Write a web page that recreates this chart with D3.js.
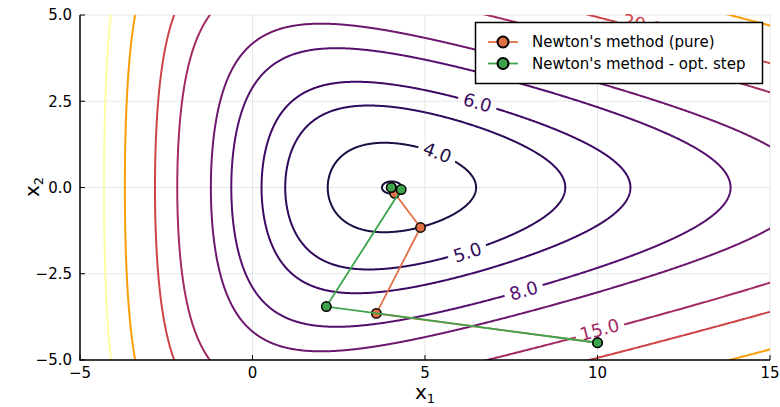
<!DOCTYPE html>
<html>
<head>
<meta charset="utf-8">
<script src="https://cdn.jsdelivr.net/npm/d3@7"></script>
<style>
  body { margin: 0; background: #fff; }
  text { font-family: "DejaVu Sans", sans-serif; }
</style>
</head>
<body>
<svg id="chart" width="780" height="407"></svg>
<script>
/* axis ticks */
const xTicks = [-5, 0, 5, 10, 15];
const yTicks = [-5, -2.5, 0, 2.5, 5];
const yTickText = ["\u22125.0", "\u22122.5", "0.0", "2.5", "5.0"];
const xTickText = ["\u22125", "0", "5", "10", "15"];

/* objective f(x1,x2) = e^(a x1 + b x2) + e^(a x1 - b x2) + c e^(-d x1) */
const coefA = 0.1, coefB = 0.4, coefC = 4.5, coefD = 0.5;
const levels = [3.6, 4, 5, 6, 8, 10, 15, 20, 30, 40];

/* contour labels (level, position in data units) */
const labelLevels = [4, 5, 6, 8, 15, 20];
const labelX = [5.36, 6.23, 6.52, 7.86, 10.06, 11.3];
const labelY = [1.01, -1.88, 2.46, -2.99, -4.12, 4.72];

/* Newton iterates */
const pureX = [10, 3.59, 4.87, 4.12, 4.03];
const pureY = [-4.5, -3.65, -1.16, -0.17, 0.0];
const optX = [10, 2.14, 4.31, 4.02];
const optY = [-4.5, -3.45, -0.06, 0.0];
const seriesNames = ["Newton's method (pure)", "Newton's method - opt. step"];

function f(x1, x2) {
  return Math.exp(coefA * x1 + coefB * x2) + Math.exp(coefA * x1 - coefB * x2) + coefC * Math.exp(-coefD * x1);
}
function grad(x1, x2) {
  const e1 = Math.exp(coefA * x1 + coefB * x2), e2 = Math.exp(coefA * x1 - coefB * x2);
  return [coefA * (e1 + e2) - coefC * coefD * Math.exp(-coefD * x1), coefB * (e1 - e2)];
}

const svg = d3.select("#chart");
const plot = { left: 80, right: 770, top: 15, bottom: 360 };
const x = d3.scaleLinear().domain([-5, 15]).range([plot.left, plot.right]);
const y = d3.scaleLinear().domain([-5, 5]).range([plot.bottom, plot.top]);

const lo = levels[0], hi = levels[levels.length - 1];
const color = v => d3.interpolateInferno(0.1 + 0.9 * Math.pow((v - lo) / (hi - lo), 0.85));

const defs = svg.append("defs");
defs.append("clipPath").attr("id", "plotclip").append("rect")
  .attr("x", plot.left).attr("y", plot.top)
  .attr("width", plot.right - plot.left).attr("height", plot.bottom - plot.top);

/* grid */
const grid = svg.append("g").attr("stroke", "#e6e6e6").attr("stroke-width", 1);
xTicks.forEach(t => grid.append("line").attr("x1", x(t)).attr("x2", x(t)).attr("y1", plot.top).attr("y2", plot.bottom));
yTicks.forEach(t => grid.append("line").attr("y1", y(t)).attr("y2", y(t)).attr("x1", plot.left).attr("x2", plot.right));

/* label positions and angles */
const labels = labelLevels.map((lv, i) => {
  const [gx, gy] = grad(labelX[i], labelY[i]);
  let ang = Math.atan2(gx, gy) * 180 / Math.PI;
  if (ang > 90) ang -= 180;
  if (ang < -90) ang += 180;
  return { level: lv, px: x(labelX[i]), py: y(labelY[i]), ang, text: lv.toFixed(1) };
});

/* mask leaving gaps in contour lines under labels */
const mask = defs.append("mask").attr("id", "lblmask").attr("maskUnits", "userSpaceOnUse")
  .attr("x", 0).attr("y", 0).attr("width", 780).attr("height", 407);
mask.append("rect").attr("width", 780).attr("height", 407).attr("fill", "white");
labels.forEach(l => {
  const w = l.text.length * 10.5 + 8;
  mask.append("rect").attr("x", -w / 2).attr("y", -11).attr("width", w).attr("height", 22)
    .attr("fill", "black").attr("transform", `translate(${l.px},${l.py}) rotate(${l.ang})`);
});

/* contour grid (padded beyond the plot so domain edges fall outside the clip) */
const gx0 = -6, gy0 = -6, step = 0.025;
const nx = Math.round(22 / step), ny = Math.round(12 / step);
const values = new Float64Array(nx * ny);
for (let j = 0; j < ny; j++) {
  for (let i = 0; i < nx; i++) {
    values[j * nx + i] = f(gx0 + (i + 0.5) * step, gy0 + (j + 0.5) * step);
  }
}
const contours = d3.contours().size([nx, ny]).thresholds(levels)(values);
const proj = d3.geoTransform({
  point(px, py) { this.stream.point(x(gx0 + px * step), y(gy0 + py * step)); }
});
const path = d3.geoPath(proj);

const cg = svg.append("g").attr("clip-path", "url(#plotclip)")
  .append("g").attr("mask", "url(#lblmask)");
cg.selectAll("path").data(contours).join("path")
  .attr("d", path)
  .attr("fill", "none")
  .attr("stroke", d => color(d.value))
  .attr("stroke-width", 2);

svg.append("g").selectAll("text").data(labels).join("text")
  .attr("transform", d => `translate(${d.px},${d.py}) rotate(${d.ang})`)
  .attr("text-anchor", "middle").attr("dy", "0.35em")
  .attr("font-size", 18)
  .attr("fill", d => color(d.level))
  .text(d => d.text);

/* axes */
const ax = svg.append("g").attr("stroke", "#000");
ax.append("line").attr("x1", plot.left).attr("x2", plot.left).attr("y1", plot.top).attr("y2", plot.bottom + 0.75).attr("stroke-width", 1.5);
ax.append("line").attr("x1", plot.left).attr("x2", plot.right).attr("y1", plot.bottom).attr("y2", plot.bottom).attr("stroke-width", 1.5);
xTicks.forEach(t => ax.append("line").attr("x1", x(t)).attr("x2", x(t)).attr("y1", plot.bottom).attr("y2", plot.bottom - 5).attr("stroke-width", 1));
yTicks.forEach(t => ax.append("line").attr("x1", plot.left).attr("x2", plot.left + 5).attr("y1", y(t)).attr("y2", y(t)).attr("stroke-width", 1));

svg.append("g").selectAll("text").data(xTicks).join("text")
  .attr("x", d => x(d)).attr("y", 378).attr("text-anchor", "middle").attr("font-size", 15)
  .text((d, i) => xTickText[i]);
svg.append("g").selectAll("text").data(yTicks).join("text")
  .attr("x", 72).attr("y", d => y(d)).attr("dy", "0.36em").attr("text-anchor", "end").attr("font-size", 15)
  .text((d, i) => yTickText[i]);

const xl = svg.append("text").attr("x", 425).attr("y", 399).attr("text-anchor", "middle").attr("font-size", 20);
xl.append("tspan").text("x");
xl.append("tspan").attr("font-size", 13).attr("dy", 4).text("1");
const yl = svg.append("text").attr("transform", "translate(39,187) rotate(-90)").attr("text-anchor", "middle").attr("font-size", 20);
yl.append("tspan").text("x");
yl.append("tspan").attr("font-size", 13).attr("dy", 4).text("2");

/* Newton paths */
const seriesColors = ["#e26f46", "#3da44d"];
const series = [d3.zip(pureX, pureY), d3.zip(optX, optY)];
const line = d3.line().x(d => x(d[0])).y(d => y(d[1]));
series.forEach((pts, k) => {
  svg.append("path").datum(pts).attr("d", line).attr("fill", "none")
    .attr("stroke", seriesColors[k]).attr("stroke-width", 1.8);
  svg.append("g").selectAll("circle").data(pts).join("circle")
    .attr("cx", d => x(d[0])).attr("cy", d => y(d[1])).attr("r", 4.7)
    .attr("fill", seriesColors[k]).attr("stroke", "#000").attr("stroke-width", 1.5);
});

/* legend */
const lg = svg.append("g");
lg.append("rect").attr("x", 475.5).attr("y", 22.5).attr("width", 287).attr("height", 61)
  .attr("fill", "#fff").attr("stroke", "#000").attr("stroke-width", 1.5);
seriesNames.forEach((name, k) => {
  const ly = 42 + k * 21.5;
  lg.append("line").attr("x1", 488).attr("x2", 518).attr("y1", ly).attr("y2", ly)
    .attr("stroke", seriesColors[k]).attr("stroke-width", 1.8);
  lg.append("circle").attr("cx", 503).attr("cy", ly).attr("r", 5.5)
    .attr("fill", seriesColors[k]).attr("stroke", "#000").attr("stroke-width", 2);
  lg.append("text").attr("x", 532).attr("y", ly).attr("dy", "0.36em").attr("font-size", 15).text(name);
});
</script>
</body>
</html>
